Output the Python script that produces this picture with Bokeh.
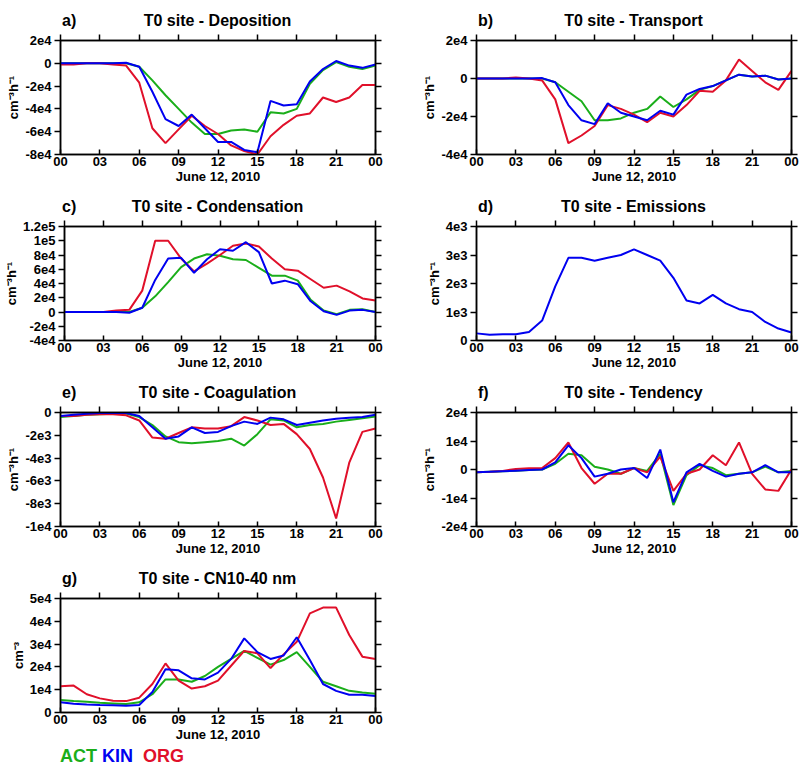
from bokeh.plotting import figure
from bokeh.models import FixedTicker, LinearAxis, Range1d, Div
from bokeh.layouts import column, row
from bokeh.embed import file_html
from bokeh.resources import INLINE

hours = list(range(25))
xtick_labels = ["00", "03", "06", "09", "12", "15", "18", "21", "00"]

dep_act = [0, 0, 0, 0, 0, 0, -0.3, -1.5, -2.8, -4.0, -5.2, -6.2, -6.2, -5.9, -5.8, -6.0, -4.3, -4.4, -4.0, -1.8, -0.6, 0.1, -0.3, -0.5, -0.2]
dep_kin = [0, 0, 0, 0, 0, 0.05, -0.3, -2.5, -4.9, -5.5, -4.5, -5.7, -6.9, -6.9, -7.6, -7.8, -3.3, -3.7, -3.6, -1.6, -0.5, 0.2, -0.2, -0.4, -0.1]
dep_org = [-0.1, -0.1, 0, 0, -0.1, -0.2, -1.7, -5.7, -7.0, -5.8, -4.6, -5.5, -6.2, -7.2, -7.7, -8.0, -6.4, -5.4, -4.6, -4.4, -3.0, -3.4, -3.0, -1.9, -1.9]

trn_act = [0, 0, 0, 0, 0, 0, -0.2, -0.7, -1.2, -2.2, -2.2, -2.1, -1.8, -1.6, -0.95, -1.5, -1.1, -0.6, -0.4, -0.1, 0.2, 0.1, 0.15, -0.05, 0]
trn_kin = [0, 0, 0, 0, 0, 0.02, -0.2, -1.4, -2.2, -2.4, -1.3, -1.8, -2.0, -2.2, -1.7, -1.9, -0.85, -0.55, -0.4, -0.1, 0.2, 0.1, 0.15, -0.05, 0]
trn_org = [0, 0, 0, 0.05, 0, -0.1, -1.1, -3.4, -3.0, -2.5, -1.4, -1.6, -1.9, -2.3, -1.8, -2.0, -1.4, -0.65, -0.7, -0.1, 1.0, 0.4, -0.2, -0.6, 0.4]

cnd_act = [0, 0, 0, 0, 0, 0, 0.6, 2.2, 4.2, 6.3, 7.5, 8.1, 7.9, 7.4, 7.3, 6.2, 5.1, 5.1, 4.4, 1.7, 0.2, -0.3, 0.3, 0.4, 0]
cnd_kin = [0, 0, 0, 0, 0, -0.1, 0.6, 4.5, 7.5, 7.6, 5.5, 7.4, 8.8, 8.6, 9.8, 8.4, 4.0, 4.4, 3.9, 1.5, 0.1, -0.4, 0.2, 0.3, 0]
cnd_org = [0, 0, 0, 0, 0.2, 0.3, 3.0, 10.0, 10.0, 7.5, 5.7, 6.8, 8.0, 9.3, 9.6, 9.2, 7.5, 6.0, 5.8, 4.6, 3.4, 3.7, 2.9, 1.9, 1.6]

emis = [0.25, 0.2, 0.22, 0.22, 0.3, 0.7, 1.9, 2.9, 2.9, 2.8, 2.9, 3.0, 3.2, 3.0, 2.8, 2.2, 1.4, 1.3, 1.6, 1.3, 1.1, 1.0, 0.65, 0.42, 0.28]

coa_act = [-0.4, -0.3, -0.2, -0.15, -0.1, -0.1, -0.4, -1.1, -2.1, -2.6, -2.7, -2.6, -2.5, -2.3, -2.9, -1.9, -0.6, -0.7, -1.3, -1.1, -1.0, -0.8, -0.65, -0.5, -0.35]
coa_kin = [-0.3, -0.2, -0.1, -0.05, -0.05, -0.05, -0.3, -1.3, -2.3, -2.1, -1.3, -1.8, -1.7, -1.2, -0.8, -1.0, -0.45, -0.6, -1.1, -0.9, -0.7, -0.55, -0.45, -0.4, -0.2]
coa_org = [-0.3, -0.3, -0.2, -0.15, -0.15, -0.25, -0.7, -2.2, -2.3, -1.8, -1.3, -1.4, -1.4, -1.2, -0.4, -0.7, -1.1, -1.0, -1.9, -3.2, -5.7, -9.3, -4.4, -1.7, -1.4]

tnd_act = [-0.1, -0.08, -0.06, -0.04, -0.02, 0, 0.2, 0.55, 0.5, 0.1, 0, -0.15, 0.05, -0.05, 0.55, -1.25, -0.2, 0.15, 0.05, -0.2, -0.15, -0.1, 0.1, -0.1, -0.05]
tnd_kin = [-0.1, -0.08, -0.06, -0.04, -0.02, 0, 0.25, 0.85, 0.4, -0.25, -0.15, 0.0, 0.05, -0.3, 0.7, -1.15, -0.1, 0.2, -0.05, -0.25, -0.15, -0.1, 0.15, -0.1, -0.1]
tnd_org = [-0.1, -0.08, -0.05, 0.02, 0.04, 0.05, 0.4, 0.95, 0.05, -0.5, -0.15, -0.15, 0.05, -0.1, 0.45, -0.75, -0.15, 0, 0.5, 0.15, 0.95, -0.15, -0.7, -0.75, 0]

cn_act = [0.55, 0.5, 0.47, 0.43, 0.4, 0.37, 0.45, 0.8, 1.45, 1.45, 1.35, 1.6, 2.0, 2.35, 2.7, 2.4, 2.1, 2.3, 2.65, 2.0, 1.35, 1.15, 0.95, 0.88, 0.82]
cn_kin = [0.45, 0.38, 0.35, 0.33, 0.32, 0.3, 0.33, 0.9, 1.9, 1.85, 1.5, 1.45, 1.75, 2.35, 3.25, 2.65, 2.35, 2.5, 3.3, 2.3, 1.25, 0.95, 0.78, 0.78, 0.72]
cn_org = [1.15, 1.18, 0.8, 0.62, 0.52, 0.5, 0.65, 1.25, 2.15, 1.4, 1.05, 1.15, 1.4, 2.05, 2.7, 2.6, 1.95, 2.55, 3.1, 4.35, 4.6, 4.6, 3.4, 2.45, 2.35]

GREEN, BLUE, RED = "#1aae1a", "#0000f0", "#e0102a"
FONT = "Liberation Sans"
FLUX = "cm\u207b\u00b3h\u207b\u00b9"
FRAME_W, FRAME_H = 315, 114


def scaled(vals, scale):
    return [v * scale for v in vals]


def panel(letter, name, series, yr, ystep, ylabels, ylabel, left, width, bottom=40):
    p = figure(width=width, height=FRAME_H + 8 + bottom, output_backend="svg", toolbar_location=None,
               x_range=Range1d(0, 24), y_range=Range1d(*yr),
               min_border_left=left, min_border_right=width - left - FRAME_W,
               min_border_top=8, min_border_bottom=bottom, margin=0)
    p.grid.visible = False
    p.outline_line_color = "black"
    p.outline_line_width = 1.5

    yticks = []
    v = yr[0]
    while v <= yr[1] + 1e-9:
        yticks.append(v)
        v += ystep
    xt = FixedTicker(ticks=list(range(0, 25, 3)))
    yt = FixedTicker(ticks=yticks)

    for ax in p.xaxis:
        ax.ticker = xt
        ax.major_label_overrides = {i * 3: t for i, t in enumerate(xtick_labels)}
        ax.axis_label = "June 12, 2010"
        ax.major_tick_in = 5
        ax.major_tick_out = 0
        ax.major_label_standoff = 2
        ax.axis_label_standoff = 0
    for ax in p.yaxis:
        ax.ticker = yt
        ax.major_label_overrides = dict(zip(yticks, ylabels))
        ax.axis_label = ylabel
        ax.major_tick_in = 0
        ax.major_tick_out = 6
        ax.major_label_standoff = 3
        ax.axis_label_standoff = 1
    for ax in p.axis:
        ax.major_label_text_font_size = "13px"
        ax.axis_label_text_font_size = "13px"
    top = LinearAxis(ticker=xt, major_label_overrides={t: "" for t in range(0, 25, 3)},
                     major_tick_in=0, major_tick_out=6, major_label_standoff=0)
    right = LinearAxis(ticker=yt, major_label_overrides={t: "" for t in yticks},
                       major_tick_in=0, major_tick_out=6, major_label_standoff=0)
    p.add_layout(top, "above")
    p.add_layout(right, "right")
    for ax in p.axis:
        ax.minor_tick_line_color = None
        ax.axis_line_width = 1.5
        ax.major_tick_line_width = 1.5
        ax.major_label_text_font = FONT
        ax.major_label_text_font_style = "bold"
        ax.major_label_text_color = "black"
        ax.axis_label_text_font = FONT
        ax.axis_label_text_font_style = "bold"
        ax.axis_label_text_color = "black"

    for vals, color in series:
        p.line(hours, vals, line_color=color, line_width=2)

    head = Div(width=width, height=24, margin=0, text=(
        f'<div style="position:relative;width:{width}px;height:24px;font-family:{FONT};'
        f'font-weight:bold;font-size:16px;color:black;">'
        f'<span style="position:absolute;left:{left + 2}px;top:2px;">{letter}</span>'
        f'<span style="position:absolute;left:{left}px;width:{FRAME_W}px;top:2px;text-align:center;">'
        f'T0 site - {name}</span></div>'))
    return column(head, p, spacing=0, margin=0)


LW, RW, LL, RL = 400, 399, 60, 76

pa = panel("a)", "Deposition",
           [(scaled(dep_act, 1e4), GREEN), (scaled(dep_org, 1e4), RED), (scaled(dep_kin, 1e4), BLUE)],
           (-8e4, 2e4), 2e4, ["-8e4", "-6e4", "-4e4", "-2e4", "0", "2e4"], FLUX, LL, LW)
pb = panel("b)", "Transport",
           [(scaled(trn_act, 1e4), GREEN), (scaled(trn_org, 1e4), RED), (scaled(trn_kin, 1e4), BLUE)],
           (-4e4, 2e4), 2e4, ["-4e4", "-2e4", "0", "2e4"], FLUX, RL, RW)
pc = panel("c)", "Condensation",
           [(scaled(cnd_act, 1e4), GREEN), (scaled(cnd_org, 1e4), RED), (scaled(cnd_kin, 1e4), BLUE)],
           (-4e4, 1.2e5), 2e4, ["-4e4", "-2e4", "0", "2e4", "4e4", "6e4", "8e4", "1e5", "1.2e5"], FLUX, LL, LW)
pd_ = panel("d)", "Emissions", [(scaled(emis, 1e3), BLUE)],
            (0, 4e3), 1e3, ["0", "1e3", "2e3", "3e3", "4e3"], FLUX, RL, RW)
pe = panel("e)", "Coagulation",
           [(scaled(coa_act, 1e3), GREEN), (scaled(coa_org, 1e3), RED), (scaled(coa_kin, 1e3), BLUE)],
           (-1e4, 0), 2e3, ["-1e4", "-8e3", "-6e3", "-4e3", "-2e3", "0"], FLUX, LL, LW)
pf = panel("f)", "Tendency",
           [(scaled(tnd_act, 1e4), GREEN), (scaled(tnd_org, 1e4), RED), (scaled(tnd_kin, 1e4), BLUE)],
           (-2e4, 2e4), 1e4, ["-2e4", "-1e4", "0", "1e4", "2e4"], FLUX, RL, RW)
pg = panel("g)", "CN10-40 nm",
           [(scaled(cn_act, 1e4), GREEN), (scaled(cn_org, 1e4), RED), (scaled(cn_kin, 1e4), BLUE)],
           (0, 5e4), 1e4, ["0", "1e4", "2e4", "3e4", "4e4", "5e4"], "cm\u207b\u00b3", LL, LW, bottom=34)

legend = Div(width=400, height=20, margin=0, text=(
    f'<div style="font-family:{FONT};font-weight:bold;font-size:18px;line-height:20px;padding-left:{LL}px;">'
    f'<span style="color:{GREEN}">ACT</span> <span style="color:{BLUE}">KIN</span>&nbsp; '
    f'<span style="color:{RED}">ORG</span></div>'))

spacer = Div(width=10, height=8, margin=0, text="")

layout = column(spacer, row(pa, pb, spacing=0, margin=0), row(pc, pd_, spacing=0, margin=0),
                row(pe, pf, spacing=0, margin=0), pg, legend, spacing=0, margin=0)
open("out.html", "w").write(file_html(layout, INLINE))
